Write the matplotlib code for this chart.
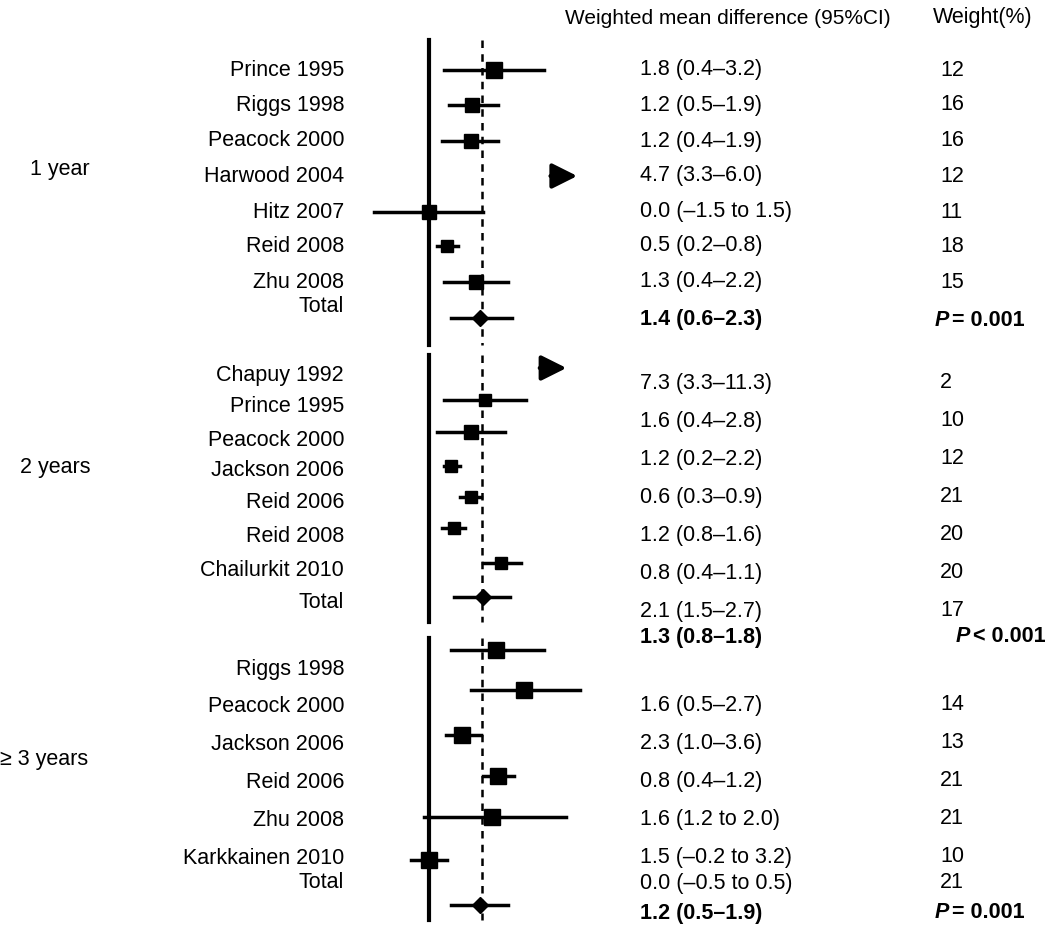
import matplotlib.pyplot as plt

plt.rcParams['font.family'] = ['Liberation Sans', 'DejaVu Sans']
FS = 15.5

# ---- study labels (left column) and row positions (px from top) ----
names_1 = ['Prince 1995', 'Riggs 1998', 'Peacock 2000', 'Harwood 2004',
           'Hitz 2007', 'Reid 2008', 'Zhu 2008', 'Total']
names_y1 = [70, 105, 141, 176, 212, 246, 282, 307]
names_2 = ['Chapuy 1992', 'Prince 1995', 'Peacock 2000', 'Jackson 2006',
           'Reid 2006', 'Reid 2008', 'Chailurkit 2010', 'Total']
names_y2 = [375, 407, 440, 471, 503, 537, 570, 602]
names_3 = ['Riggs 1998', 'Peacock 2000', 'Jackson 2006', 'Reid 2006',
           'Zhu 2008', 'Karkkainen 2010', 'Total']
names_y3 = [669, 707, 745, 783, 821, 859, 883]

groups = ['1 year', '2 years', '\u2265 3 years']
groups_xy = [(30, 170), (20, 467), (0, 760)]

# ---- drawn estimates (est, lo, hi, row y, marker size) ----
est_1 = [1.8, 1.2, 1.15, None, 0.0, 0.5, 1.3]
lo_1 = [0.4, 0.55, 0.35, 3.3, -1.55, 0.2, 0.4]
hi_1 = [3.2, 1.9, 1.9, 4.2, 1.5, 0.8, 2.2]
y_1 = [70, 105, 141, 176, 212, 246, 282]
ms_1 = [11, 10, 10, 0, 10, 9, 10]
tot_1 = (1.4, 0.6, 2.3, 318)

est_2 = [None, 1.55, 1.15, 0.6, 1.15, 0.7, 2.0]
lo_2 = [3.0, 0.4, 0.2, 0.4, 0.85, 0.35, 1.5]
hi_2 = [3.9, 2.7, 2.1, 0.85, 1.45, 1.0, 2.55]
y_2 = [368, 400, 432, 466, 497, 528, 563]
ms_2 = [0, 9, 10, 8, 9, 9, 9]
tot_2 = (1.5, 0.7, 2.25, 597)

est_3 = [1.85, 2.65, 0.9, 1.9, 1.75, 0.0]
lo_3 = [0.6, 1.15, 0.45, 1.5, -0.15, -0.5]
hi_3 = [3.2, 4.2, 1.45, 2.35, 3.8, 0.5]
y_3 = [650, 690, 735, 776, 817, 860]
ms_3 = [11, 12, 11, 11, 11, 11]
tot_3 = (1.4, 0.6, 2.2, 905)

spans = [(40, 345), (355, 622), (638, 920)]
overall = 1.47

# ---- value and weight columns ----
vals_1 = ['1.8 (0.4\u20133.2)', '1.2 (0.5\u20131.9)', '1.2 (0.4\u20131.9)', '4.7 (3.3\u20136.0)',
          '0.0 (\u20131.5 to 1.5)', '0.5 (0.2\u20130.8)', '1.3 (0.4\u20132.2)']
vals_y1 = [70, 105, 141, 176, 212, 246, 282]
w_1 = ['12', '16', '16', '12', '11', '18', '15']
vals_2 = ['7.3 (3.3\u201311.3)', '1.6 (0.4\u20132.8)', '1.2 (0.2\u20132.2)', '0.6 (0.3\u20130.9)',
          '1.2 (0.8\u20131.6)', '0.8 (0.4\u20131.1)', '2.1 (1.5\u20132.7)']
vals_y2 = [383, 421, 459, 497, 535, 573, 611]
w_2 = ['2', '10', '12', '21', '20', '20', '17']
vals_3 = ['1.6 (0.5\u20132.7)', '2.3 (1.0\u20133.6)', '0.8 (0.4\u20131.2)', '1.6 (1.2 to 2.0)',
          '1.5 (\u20130.2 to 3.2)', '0.0 (\u20130.5 to 0.5)']
vals_y3 = [705, 743, 781, 819, 857, 883]
w_3 = ['14', '13', '21', '21', '10', '21']
totals = ['1.4 (0.6\u20132.3)', '1.3 (0.8\u20131.8)', '1.2 (0.5\u20131.9)']
totals_y = [320, 637, 913]
pvals = ['= 0.001', '< 0.001', '= 0.001']
p_x = [935, 956, 935]

fig = plt.figure(figsize=(10.64, 9.36), dpi=100)

# text layer in pixel coordinates
tx = fig.add_axes([0, 0, 1, 1])
tx.set_xlim(0, 1064)
tx.set_ylim(936, 0)
tx.axis('off')

tx.text(565, 18, 'Weighted mean difference (95%CI)', fontsize=15, va='center')
tx.text(933, 18, 'Weight(%)', fontsize=FS, va='center')

for g, (gx, gy) in zip(groups, groups_xy):
    tx.text(gx, gy, g, fontsize=FS, va='center')

for nm, ny in ((names_1, names_y1), (names_2, names_y2), (names_3, names_y3)):
    for n, y in zip(nm, ny):
        tx.text(344, y, n, fontsize=FS, ha='right', va='center')

for vv, vy, ww in ((vals_1, vals_y1, w_1), (vals_2, vals_y2, w_2), (vals_3, vals_y3, w_3)):
    for v, y, w in zip(vv, vy, ww):
        tx.text(640, y, v, fontsize=FS, va='center')
        tx.text(940, y, w, fontsize=FS, va='center')

for t, y, p, px in zip(totals, totals_y, pvals, p_x):
    tx.text(640, y, t, fontsize=FS, va='center', fontweight='bold')
    tx.text(px, y, 'P', fontsize=FS, va='center', fontweight='bold', fontstyle='italic')
    tx.text(px + 17, y, p, fontsize=FS, va='center', fontweight='bold')

# forest layer: x in WMD units, y in pixel rows
ax = fig.add_axes([372 / 1064, 0, 208 / 1064, 1])
ax.set_xlim(-1.6, 4.2)
ax.set_ylim(936, 0)
ax.axis('off')

for a, b in spans:
    ax.plot([0, 0], [a, b], color='k', lw=3)
    ax.plot([overall, overall], [a, b], color='k', lw=1.8, ls=(0, (3, 2.5)))

for ee, ll, hh, yy, mm in ((est_1, lo_1, hi_1, y_1, ms_1),
                           (est_2, lo_2, hi_2, y_2, ms_2),
                           (est_3, lo_3, hi_3, y_3, ms_3)):
    for e, l, h, y, m in zip(ee, ll, hh, yy, mm):
        if e is None:
            ax.annotate('', xy=(h, y), xytext=(l, y),
                        arrowprops=dict(arrowstyle='-|>', color='k', lw=3,
                                        mutation_scale=38), annotation_clip=False)
            continue
        ax.plot([l, h], [y, y], color='k', lw=2.5, clip_on=False)
        ax.plot(e, y, 's', color='k', ms=m, clip_on=False)

for e, l, h, y in (tot_1, tot_2, tot_3):
    ax.plot([l, h], [y, y], color='k', lw=2.5)
    ax.plot(e, y, 'D', color='k', ms=8)

fig.savefig('out.png', dpi=100)
